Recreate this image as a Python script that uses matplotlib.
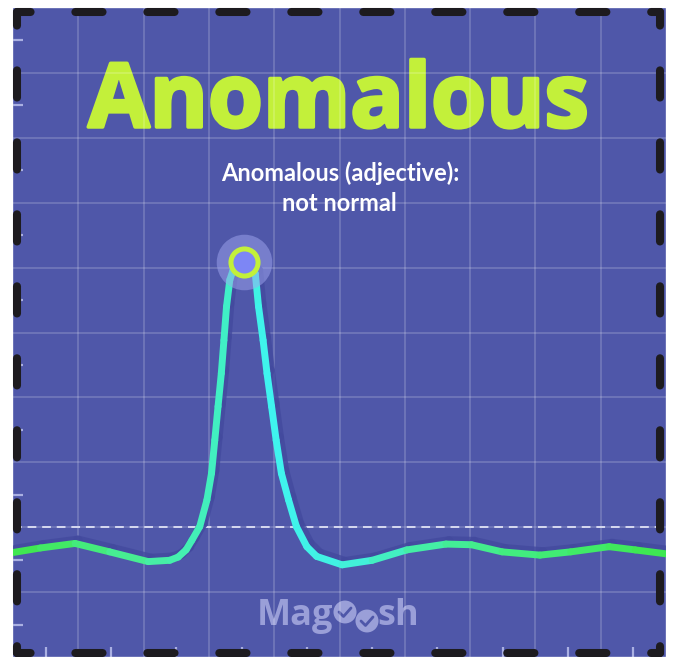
import numpy as np
import matplotlib
matplotlib.use("Agg")
import matplotlib.pyplot as plt
import matplotlib.patheffects as pe
import matplotlib.transforms as mtransforms
from matplotlib.collections import LineCollection
from matplotlib.colors import LinearSegmentedColormap
from matplotlib.patches import Circle

# data (axes run 0..10 on both sides)
curve_x = [0.00, 0.42, 0.95, 1.48, 2.07, 2.40, 2.53, 2.65, 2.74, 2.86, 2.97, 3.04,
           3.09, 3.14, 3.19, 3.23, 3.27, 3.32, 3.37, 3.53, 3.71, 3.76, 3.83, 3.89,
           3.96, 4.03, 4.11, 4.22, 4.34, 4.50, 4.65, 5.04, 5.50, 6.03, 6.63, 7.02,
           7.49, 8.07, 8.54, 9.13, 9.53, 10.00]
curve_y = [1.61, 1.68, 1.75, 1.62, 1.47, 1.49, 1.54, 1.65, 1.80, 2.01, 2.42, 2.83,
           3.34, 3.86, 4.37, 4.88, 5.40, 5.81, 5.96, 6.08, 5.91, 5.40, 4.88, 4.37,
           3.86, 3.34, 2.83, 2.42, 2.01, 1.70, 1.55, 1.42, 1.49, 1.65, 1.74, 1.73,
           1.62, 1.57, 1.62, 1.70, 1.65, 1.59]
peak_x, peak_y = 3.53, 6.08
threshold = 2.0
title = "Anomalous"
subtitle_lines = ["Anomalous (adjective):", "not normal"]
brand_left, brand_right = "Mag", "sh"

W, H = 673, 657
BG = "#4f57a9"
LIME = "#c3f03a"

fig = plt.figure(figsize=(W / 100, H / 100), dpi=100)
L, R, T, B = 13, 666, 8, 657
ax = fig.add_axes([L / W, 1 - B / H, (R - L) / W, (B - T) / H])
ax.set_facecolor(BG)
ax.set_xlim(0, 10)
ax.set_ylim(0, 10)
for s in ax.spines.values():
    s.set_visible(False)

def px(x):
    return (x - L) / ((R - L) / 10)

def py(y):
    return (B - y) / ((B - T) / 10)

# grid + inward minor ticks
ax.set_axisbelow(True)
ax.set_xticks(np.arange(0, 11, 1))
ax.set_yticks(np.arange(0, 11, 1))
ax.set_xticks(np.arange(0.5, 10, 1), minor=True)
ax.set_yticks(np.arange(0.5, 10, 1), minor=True)
ax.tick_params(which="major", length=0, labelbottom=False, labelleft=False)
ax.tick_params(which="minor", direction="in", length=7, width=1.6, color="#aab0e2")
ax.grid(True, which="major", color="white", alpha=0.2, linewidth=1.2)

# texts (under the grid)
t = ax.text(px(338.5), py(127), title, ha="center", va="baseline", color=LIME,
            fontsize=64, fontfamily="Open Sans", fontweight="bold", zorder=0.2)
t.set_path_effects([pe.withStroke(linewidth=2.5, foreground=LIME, capstyle="round",
                                  joinstyle="round")])
ax.text(px(340), py(181), subtitle_lines[0], ha="center", va="baseline", color="white",
        fontsize=17, fontfamily="Lato", fontweight="bold", zorder=0.2)
ax.text(px(339), py(211), subtitle_lines[1], ha="center", va="baseline", color="white",
        fontsize=17, fontfamily="Lato", fontweight="bold", zorder=0.2)

# watermark
WM = "#9a9fd8"
ax.text(px(333), py(625), brand_left, ha="right", va="baseline", color=WM,
        fontsize=26, fontfamily="Open Sans", fontweight="bold", zorder=0.2)
ax.text(px(377), py(625), brand_right, ha="left", va="baseline", color=WM,
        fontsize=26, fontfamily="Open Sans", fontweight="bold", zorder=0.2)
for cx, cy in [(345, 612), (367, 621)]:
    ax.add_patch(Circle((px(cx), py(cy)), 11.5 / 65.2, color=WM, zorder=0.2, lw=0))
    ax.plot([px(cx - 6), px(cx - 1.5), px(cx + 6)], [py(cy), py(cy + 4.5), py(cy - 4)],
            color=BG, lw=2, solid_capstyle="round", solid_joinstyle="round", zorder=0.25)

# threshold line
ax.axhline(threshold, color="#d6d9f0", lw=1.4, ls=(0, (4.5, 3)), zorder=1)

# curve with shadow and gradient
pts = np.column_stack([curve_x, curve_y])
segs = np.stack([pts[:-1], pts[1:]], axis=1)
cmap = LinearSegmentedColormap.from_list("g", [
    (0.0, "#3fe64a"), (0.21, "#48eea0"), (0.33, "#40f0c8"), (0.39, "#3ff4f0"),
    (0.51, "#42f0e0"), (0.65, "#44ee9e"), (1.0, "#3ee84c")])
mid = (pts[:-1, 0] + pts[1:, 0]) / 20
shadow_tr = ax.transData + mtransforms.ScaledTranslation(0.03, 0.03, fig.dpi_scale_trans)
sh = LineCollection(segs, colors="#434a9e", linewidths=7, alpha=0.8,
                    capstyle="round", joinstyle="round", transform=shadow_tr, zorder=1.5)
ax.add_collection(sh)
lc = LineCollection(segs, colors=cmap(mid), linewidths=5, capstyle="round",
                    joinstyle="round", zorder=2)
ax.add_collection(lc)

# peak marker
ax.plot(peak_x, peak_y, "o", ms=40, color="#9fa6f0", alpha=0.5, mew=0, zorder=3)
ax.plot(peak_x, peak_y, "o", ms=19.5, mfc="#7d86f5", mec=LIME, mew=3.6, zorder=4)

# black dashed frame with round caps
x0, x1 = 4 / (R - L), (660 - L) / (R - L)
y1, y0 = (B - 12) / (B - T), (B - 653) / (B - T)
dash = (1.69, (3.375, 5.56))
for xs, ys in [([x0, x1], [y1, y1]), ([x0, x1], [y0, y0]),
               ([x0, x0], [y1, y0]), ([x1, x1], [y1, y0])]:
    ax.plot(xs, ys, transform=ax.transAxes, color="#1d1b1f", lw=5.8, ls=dash,
            dash_capstyle="round", clip_on=False, zorder=10)

fig.savefig("out.png", dpi=100, facecolor="white")
